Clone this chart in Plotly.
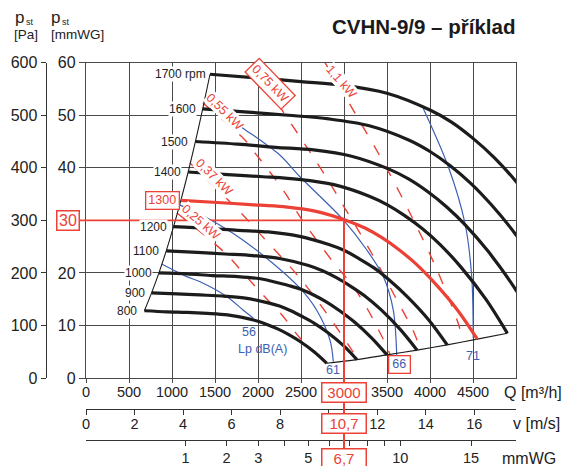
import math
import plotly.graph_objects as go

W, H = 569, 466
RED = "#ec4136"
BLUE = "#3d60b5"
BLACK = "#1c1c1c"
GRID = "#4a4a4a"
TXT = "#222222"
FONT = "Liberation Sans, Arial, Helvetica, sans-serif"

# ---------------- data ----------------
rpm = [800, 900, 1000, 1100, 1200, 1300, 1400, 1500, 1600, 1700]

q_800 = [679, 941, 1176, 1412, 1647, 1882, 2000, 2118, 2235, 2353, 2494, 2659, 2800]
p_800 = [12.8, 12.6, 12.5, 12.3, 12.0, 11.3, 10.8, 10.1, 9.3, 8.3, 6.9, 4.9, 2.8]
q_900 = [763, 1059, 1324, 1588, 1853, 2118, 2250, 2382, 2515, 2647, 2806, 2991, 3150]
p_900 = [16.2, 16.0, 15.8, 15.6, 15.2, 14.3, 13.7, 12.8, 11.7, 10.5, 8.7, 6.2, 3.5]
q_1000 = [848, 1176, 1471, 1765, 2059, 2353, 2500, 2647, 2794, 2941, 3118, 3323, 3500]
p_1000 = [20.0, 19.8, 19.5, 19.3, 18.8, 17.6, 16.9, 15.8, 14.5, 12.9, 10.7, 7.6, 4.4]
q_1100 = [933, 1294, 1618, 1941, 2265, 2588, 2750, 2912, 3074, 3235, 3430, 3656, 3850]
p_1100 = [24.2, 23.9, 23.6, 23.3, 22.7, 21.4, 20.4, 19.1, 17.5, 15.7, 13.0, 9.2, 5.3]
q_1200 = [1018, 1412, 1765, 2118, 2471, 2824, 3000, 3176, 3353, 3529, 3741, 3988, 4200]
p_1200 = [28.8, 28.5, 28.1, 27.8, 27.0, 25.4, 24.3, 22.7, 20.9, 18.6, 15.4, 11.0, 6.3]
q_1300 = [1103, 1529, 1912, 2294, 2676, 3059, 3250, 3441, 3632, 3824, 4053, 4321, 4550]
p_1300 = [33.8, 33.4, 33.0, 32.6, 31.7, 29.8, 28.5, 26.7, 24.5, 21.9, 18.1, 12.9, 7.4]
q_1400 = [1188, 1647, 2059, 2471, 2882, 3294, 3500, 3706, 3912, 4118, 4365, 4653, 4900]
p_1400 = [39.2, 38.7, 38.3, 37.8, 36.8, 34.6, 33.0, 30.9, 28.4, 25.4, 21.0, 14.9, 8.5]
q_1500 = [1272, 1765, 2206, 2647, 3088, 3529, 3750, 3971, 4191, 4412, 4676, 4985, 5250]
p_1500 = [45.0, 44.5, 43.9, 43.4, 42.2, 39.7, 37.9, 35.5, 32.6, 29.1, 24.1, 17.1, 9.8]
q_1600 = [1357, 1882, 2353, 2824, 3294, 3765, 4000, 4235, 4471, 4706, 4988, 5318, 5600]
p_1600 = [51.2, 50.6, 50.0, 49.3, 48.0, 45.2, 43.1, 40.4, 37.1, 33.1, 27.5, 19.5, 11.2]
q_1700 = [1442, 2000, 2500, 3000, 3500, 4000, 4250, 4500, 4750, 5000, 5300, 5650, 5950]
p_1700 = [57.8, 57.1, 56.4, 55.7, 54.2, 51.0, 48.7, 45.6, 41.9, 37.4, 31.0, 22.0, 12.6]

curves_q = [q_800, q_900, q_1000, q_1100, q_1200, q_1300, q_1400, q_1500, q_1600, q_1700]
curves_p = [p_800, p_900, p_1000, p_1100, p_1200, p_1300, p_1400, p_1500, p_1600, p_1700]
rpm_labels = ["800", "900", "1000", "1100", "1200", "1300", "1400", "1500", "1600", "1700 rpm"]

# constant power lines (dashed)
kw_labels = ["0,25 kW", "0,37 kW", "0,55 kW", "0,75 kW", "1,1 kW"]
kw025_q = [1058, 1616, 1849, 2058, 2279, 2488, 2721]
kw025_p = [31.4, 23.8, 19.6, 15.8, 12.0, 7.6, 3.8]
kw037_q = [1209, 1791, 2047, 2488, 2837, 3128]
kw037_p = [40.9, 31.6, 27.0, 19.0, 11.4, 4.4]
kw055_q = [1360, 1849, 1965, 2058, 2291, 2512, 2872, 3093, 3267, 3500, 3535]
kw055_p = [52.3, 45.3, 42.8, 40.9, 35.8, 30.1, 22.1, 17.7, 13.3, 5.9, 4.4]
kw075_q = [1942, 2256, 2488, 2628, 2814, 2988, 3163, 3419, 3616, 3802, 3884]
kw075_p = [60.0, 51.6, 45.9, 42.4, 37.7, 32.9, 28.2, 20.9, 14.8, 9.1, 5.7]
kw11_q = [2779, 3128, 3477, 3791, 4081, 4326, 4384]
kw11_p = [60.0, 50.4, 40.5, 30.6, 20.6, 10.5, 7.2]
kw_label_q = [1334, 1488, 1616, 2140, 2973]
kw_label_p = [29.7, 38.2, 50.7, 56.1, 56.4]
kw_label_angle = [41, 45, 45, 46, 49]

# sound pressure level lines Lp dB(A)
db_labels = ["56", "61", "66", "71"]
db56_q = [880, 1171, 1326, 1636, 1829, 1945]
db56_p = [21.7, 19.3, 18.3, 15.5, 12.9, 11.4]
db61_q = [1093, 1384, 1713, 2101, 2488, 2683, 2837, 2876]
db61_p = [32.9, 30.7, 27.5, 22.8, 17.1, 12.9, 7.2, 3.1]
db66_q = [1372, 1829, 2256, 2488, 2992, 3264, 3457, 3573, 3613]
db66_p = [52.6, 47.5, 42.4, 38.3, 30.1, 24.4, 19.3, 12.9, 4.4]
db71_q = [3922, 4213, 4407, 4485, 4503]
db71_p = [51.3, 40.2, 29.4, 19.3, 7.6]
db_label_q = [1895, 2872, 3651, 4500]
db_label_p = [8.7, 1.6, 2.5, 4.2]

# operating point
Q_OP = 3000
P_OP = 30
V_OP = "10,7"
PD_OP = "6,7"

# axes ticks
q_ticks = [0, 500, 1000, 1500, 2000, 2500, 3000, 3500, 4000, 4500]
p_ticks = [0, 10, 20, 30, 40, 50, 60]
pa_ticks = [0, 100, 200, 300, 400, 500, 600]
v_ticks = [0, 2, 4, 6, 8, 10, 12, 14, 16]
pd_ticks = [1, 2, 3, 4, 5, 6, 7, 8, 9, 10, 15]
pd_labels = ["1", "2", "3", "", "5", "", "", "", "", "10", "15"]

Q_MAX = 5000
Q_PER_V = 282.2        # m3/h per m/s for this fan outlet
PD_K = 0.0596          # mmWG per (m/s)^2

# ---------------- geometry helpers ----------------
def fx(px):
    return px / W

def fy(py):
    return 1 - py / H

X_DOM = [fx(86), fx(516)]
Y_DOM = [fy(378), fy(62.7)]

fig = go.Figure()

def line(q, p, color, width, dash=None, shape="spline"):
    fig.add_trace(go.Scatter(
        x=q, y=p, mode="lines",
        line=dict(color=color, width=width, dash=dash, shape=shape, smoothing=0.9),
        hoverinfo="skip", showlegend=False))

# power lines
for q, p in [(kw025_q, kw025_p), (kw037_q, kw037_p), (kw055_q, kw055_p),
             (kw075_q, kw075_p), (kw11_q, kw11_p)]:
    line(q, p, RED, 1.4, dash="11px,13px")

# dB lines
for q, p in [(db56_q, db56_p), (db61_q, db61_p), (db66_q, db66_p), (db71_q, db71_p)]:
    line(q, p, BLUE, 1.2)

# boundaries
line([c[0] for c in curves_q], [c[0] for c in curves_p], BLACK, 1.1)
line([c[-1] for c in curves_q[:7]], [c[-1] for c in curves_p[:7]], BLACK, 1.1)

# fan curves
for n, q, p in zip(rpm, curves_q, curves_p):
    if n == 1300:
        continue
    line(q, p, BLACK, 3.2)
line(q_1300, p_1300, RED, 3.2)

# dummy traces for extra axes
fig.add_trace(go.Scatter(x=[0], y=[None], xaxis="x2", yaxis="y", mode="lines",
                         showlegend=False, hoverinfo="skip"))
fig.add_trace(go.Scatter(x=[0], y=[None], xaxis="x3", yaxis="y", mode="lines",
                         showlegend=False, hoverinfo="skip"))
fig.add_trace(go.Scatter(x=[0], y=[None], xaxis="x", yaxis="y2", mode="lines",
                         showlegend=False, hoverinfo="skip"))

tickfont = dict(family=FONT, size=14.5, color=TXT)
ytickfont = dict(family=FONT, size=16, color=TXT)

annotations = []

def ann(text, x, y, xref="x", yref="y", size=12, color=TXT, **kw):
    d = dict(text=text, x=x, y=y, xref=xref, yref=yref, showarrow=False,
             xanchor="center", yanchor="middle",
             font=dict(family=FONT, size=size, color=color))
    d.update(kw)
    annotations.append(d)

# rpm labels
for n, lab, q, p in zip(rpm, rpm_labels, curves_q, curves_p):
    if n == 1300:
        ann(lab, q[0], p[0], size=12.5, color=RED, xanchor="right",
            xshift=-1, bgcolor="white", bordercolor=RED, borderwidth=1.3,
            borderpad=1.5, width=29, height=13)
    else:
        ann(lab, q[0], p[0], size=12, xanchor="right",
            xshift=-3 if n == 1700 else -6, bgcolor="white", borderpad=0)

# kW labels
for lab, q, p, a in zip(kw_labels, kw_label_q, kw_label_p, kw_label_angle):
    extra = dict(bordercolor=RED, borderwidth=1.3, borderpad=2) if lab == "0,75 kW" else dict(borderpad=0)
    ann(lab, q, p, size=12.5, color=RED, textangle=a, bgcolor="white", **extra)

# dB labels
for lab, q, p in zip(db_labels, db_label_q, db_label_p):
    if lab == "66":
        ann(lab, q, p, size=12.5, color=BLUE, bgcolor="white", bordercolor=RED,
            borderwidth=1.3, borderpad=1.5, width=17, height=13)
    else:
        ann(lab, q, p, size=12.5, color=BLUE)
ann("Lp dB(A)", 2052, 5.6, size=12.5, color=BLUE)

# operating point boxes
box = dict(bgcolor="white", bordercolor=RED, borderwidth=1.5, borderpad=1.5)
ann(str(P_OP), fx(67.8), P_OP, xref="paper", size=16, color=RED, width=18, height=15, **box)
ann(str(Q_OP), Q_OP, fy(392.7), yref="paper", size=15, color=RED, width=40, height=15, **box)
ann(V_OP, Q_OP, fy(423), yref="paper", size=15, color=RED, width=40, height=15, **box)
ann(PD_OP, Q_OP, fy(458.5), yref="paper", size=15, color=RED, width=40, height=15, **box)

# axis unit labels
ann("Q [m³/h]", fx(502), fy(392.7), xref="paper", yref="paper", size=16, xanchor="left")
ann("v [m/s]", fx(511), fy(423), xref="paper", yref="paper", size=16, xanchor="left")
ann("mmWG", fx(500), fy(458), xref="paper", yref="paper", size=16, xanchor="left")

ann("p", fx(13), fy(17.5), xref="paper", yref="paper", size=17, xanchor="left")
ann("st", fx(23.5), fy(22.3), xref="paper", yref="paper", size=9, xanchor="left")
ann("[Pa]", fx(12), fy(35), xref="paper", yref="paper", size=13.5, xanchor="left")
ann("p", fx(49), fy(17.5), xref="paper", yref="paper", size=17, xanchor="left")
ann("st", fx(59.5), fy(22.3), xref="paper", yref="paper", size=9, xanchor="left")
ann("[mmWG]", fx(48.5), fy(35), xref="paper", yref="paper", size=13.5, xanchor="left")

# title
ann("<b>CVHN-9/9 – příklad</b>", fx(517), fy(27), xref="paper", yref="paper",
    size=20.5, color="#1a1a1a", xanchor="right")

shapes = [
    dict(type="line", xref="x", yref="y", x0=0, x1=Q_OP, y0=P_OP, y1=P_OP,
         line=dict(color=RED, width=1.8)),
    dict(type="line", xref="paper", yref="y", x0=fx(79), x1=fx(86), y0=P_OP, y1=P_OP,
         line=dict(color=RED, width=1.8)),
    dict(type="line", xref="x", yref="y", x0=Q_OP, x1=Q_OP, y0=0, y1=P_OP,
         line=dict(color=RED, width=2)),
    dict(type="line", xref="x", yref="paper", x0=Q_OP, x1=Q_OP, y0=0, y1=Y_DOM[0],
         line=dict(color=RED, width=2)),
]

fig.update_layout(
    width=W, height=H,
    margin=dict(l=0, r=0, t=0, b=0, autoexpand=False),
    paper_bgcolor="white", plot_bgcolor="white",
    showlegend=False,
    font=dict(family=FONT, color=TXT),
    xaxis=dict(domain=X_DOM, range=[0, Q_MAX], tickvals=q_ticks,
               ticktext=["" if t == Q_OP else str(t) for t in q_ticks],
               ticks="outside", ticklen=4, tickcolor=GRID, tickwidth=1.3,
               ticklabelstandoff=-4,
               showgrid=True, gridcolor=GRID, gridwidth=1.3,
               showline=True, linecolor=GRID, linewidth=1.3, mirror=True,
               zeroline=False, tickfont=tickfont, fixedrange=True),
    yaxis=dict(domain=Y_DOM, range=[0, 60], tickvals=p_ticks,
               ticktext=["" if t == P_OP else str(t) for t in p_ticks],
               ticks="outside", ticklen=6, tickcolor=GRID, tickwidth=1.3,
               showgrid=True, gridcolor=GRID, gridwidth=1.3,
               showline=True, linecolor=GRID, linewidth=1.3, mirror=True,
               zeroline=False, tickfont=ytickfont, fixedrange=True),
    yaxis2=dict(overlaying="y", anchor="free", position=fx(45.7), side="left",
                range=[0, 600], tickvals=pa_ticks, ticks="outside", ticklen=5,
                tickcolor="#333", tickwidth=1.3, showgrid=False, zeroline=False,
                showline=True, linecolor="#333", linewidth=1.3,
                tickfont=ytickfont, fixedrange=True),
    xaxis2=dict(overlaying="x", anchor="free", position=fy(409), side="bottom",
                range=[0, Q_MAX / Q_PER_V], tickvals=v_ticks,
                ticktext=["" if t == 10 else str(t) for t in v_ticks],
                ticks="outside", ticklen=5, tickcolor="#333", tickwidth=1.3,
                ticklabelstandoff=-4,
                showgrid=False, zeroline=False, showline=True, linecolor="#333",
                linewidth=1.3, tickfont=tickfont, fixedrange=True),
    xaxis3=dict(overlaying="x", anchor="free", position=fy(440), side="bottom",
                range=[0, Q_MAX / Q_PER_V],
                tickvals=[math.sqrt(d / PD_K) for d in pd_ticks], ticktext=pd_labels,
                ticks="outside", ticklen=5, tickcolor="#333", tickwidth=1.3,
                ticklabelstandoff=-1,
                showgrid=False, zeroline=False, showline=True, linecolor="#333",
                linewidth=1.3, tickfont=tickfont, fixedrange=True),
    annotations=annotations,
    shapes=shapes,
)

fig.write_html("out.html")
